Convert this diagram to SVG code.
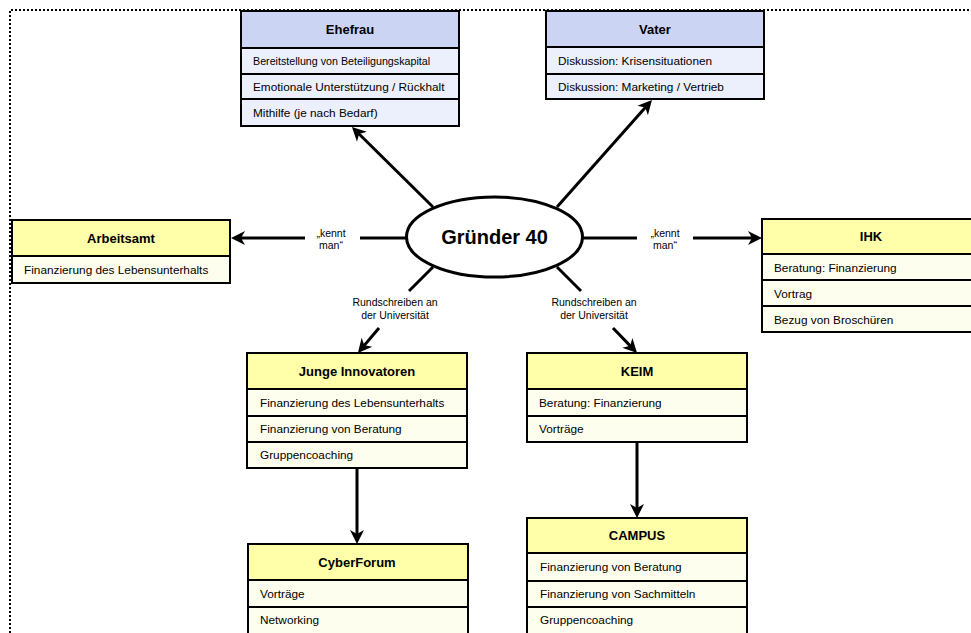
<svg xmlns="http://www.w3.org/2000/svg" width="971" height="633" viewBox="0 0 971 633">
<style>
text{font-family:"Liberation Sans",Arial,Helvetica,sans-serif;fill:#000}
.h{font-size:13px;font-weight:bold;text-anchor:middle}
.r{font-size:11.8px}
.rs{font-size:10.7px}
.lbl{font-size:10.5px;text-anchor:middle}
.hb{fill:#ccd4f4;stroke:#000;stroke-width:2}
.rb{fill:#eceffc;stroke:#000;stroke-width:2}
.hy{fill:#ffffaa;stroke:#000;stroke-width:2}
.ry{fill:#fefeee;stroke:#000;stroke-width:2}
.c{stroke:#000;stroke-width:3;fill:none}
.ca{stroke:#000;stroke-width:3;fill:none;marker-end:url(#ah)}
</style>
<defs>
<marker id="ah" markerUnits="userSpaceOnUse" viewBox="-12 -8 17 16" refX="0" refY="0" markerWidth="17" markerHeight="16" orient="auto">
<path d="M4,0 L-10,-7 L-6,0 L-10,7 Z" fill="#000"/>
</marker>
</defs>
<rect width="971" height="633" fill="#fff"/>
<path d="M10,633 L10,10 L971,10" fill="none" stroke="#000" stroke-width="2" stroke-dasharray="2 2"/>

<g id="connectors">
<line class="ca" x1="433" y1="207" x2="354.8" y2="129.8"/>
<line class="ca" x1="557" y1="207" x2="649.3" y2="103"/>
<line class="c" x1="407" y1="238" x2="360" y2="238"/>
<line class="ca" x1="305" y1="238" x2="235" y2="238"/>
<line class="c" x1="582" y1="238" x2="637" y2="238"/>
<line class="ca" x1="693" y1="238" x2="758" y2="238"/>
<line class="c" x1="433" y1="267" x2="409" y2="291"/>
<line class="ca" x1="379" y1="328" x2="360.5" y2="349.9"/>
<line class="c" x1="557" y1="267" x2="581" y2="291"/>
<line class="ca" x1="613" y1="328" x2="634.3" y2="350.1"/>
<line class="ca" x1="357" y1="468" x2="357" y2="540"/>
<line class="ca" x1="637" y1="442" x2="637" y2="514"/>
<text class="lbl" x="331" y="237">„kennt</text>
<text class="lbl" x="331" y="249">man“</text>
<text class="lbl" x="665" y="237">„kennt</text>
<text class="lbl" x="665" y="249">man“</text>
<text class="lbl" x="395" y="306">Rundschreiben an</text>
<text class="lbl" x="395" y="319">der Universität</text>
<text class="lbl" x="594" y="306">Rundschreiben an</text>
<text class="lbl" x="594" y="319">der Universität</text>
</g>

<g id="gruender">
<ellipse cx="494.5" cy="237" rx="88" ry="40" fill="#fff" stroke="#000" stroke-width="3"/>
<text x="494.5" y="244" style="font-size:20px;font-weight:bold;text-anchor:middle">Gründer 40</text>
</g>

<g id="ehefrau">
<rect class="hb" x="241" y="11" width="218" height="37"/>
<rect class="rb" x="241" y="48" width="218" height="26"/>
<rect class="rb" x="241" y="74" width="218" height="25"/>
<rect class="rb" x="241" y="99" width="218" height="27"/>
<text class="h" x="350" y="34">Ehefrau</text>
<text class="rs" x="253" y="65">Bereitstellung von Beteiligungskapital</text>
<text class="r" x="253" y="91">Emotionale Unterstützung / Rückhalt</text>
<text class="r" x="253" y="117">Mithilfe (je nach Bedarf)</text>
</g>

<g id="vater">
<rect class="hb" x="546" y="11" width="218" height="36"/>
<rect class="rb" x="546" y="47" width="218" height="27"/>
<rect class="rb" x="546" y="74" width="218" height="25"/>
<text class="h" x="655" y="34">Vater</text>
<text class="r" x="558" y="65">Diskussion: Krisensituationen</text>
<text class="r" x="558" y="91">Diskussion: Marketing / Vertrieb</text>
</g>

<g id="arbeitsamt">
<rect class="hy" x="12" y="220" width="218" height="36"/>
<rect class="ry" x="12" y="256" width="218" height="27"/>
<text class="h" x="121" y="243">Arbeitsamt</text>
<text class="r" x="24" y="274">Finanzierung des Lebensunterhalts</text>
</g>

<g id="ihk">
<rect class="hy" x="762" y="219" width="218" height="35"/>
<rect class="ry" x="762" y="254" width="218" height="26"/>
<rect class="ry" x="762" y="280" width="218" height="26"/>
<rect class="ry" x="762" y="306" width="218" height="26"/>
<text class="h" x="871" y="241">IHK</text>
<text class="r" x="774" y="272">Beratung: Finanzierung</text>
<text class="r" x="774" y="298">Vortrag</text>
<text class="r" x="774" y="324">Bezug von Broschüren</text>
</g>

<g id="junge">
<rect class="hy" x="247" y="353" width="220" height="36"/>
<rect class="ry" x="247" y="389" width="220" height="27"/>
<rect class="ry" x="247" y="416" width="220" height="26"/>
<rect class="ry" x="247" y="442" width="220" height="26"/>
<text class="h" x="357" y="376">Junge Innovatoren</text>
<text class="r" x="260" y="407">Finanzierung des Lebensunterhalts</text>
<text class="r" x="260" y="433">Finanzierung von Beratung</text>
<text class="r" x="260" y="459">Gruppencoaching</text>
</g>

<g id="keim">
<rect class="hy" x="527" y="353" width="220" height="36"/>
<rect class="ry" x="527" y="389" width="220" height="27"/>
<rect class="ry" x="527" y="416" width="220" height="26"/>
<text class="h" x="637" y="376">KEIM</text>
<text class="r" x="539" y="407">Beratung: Finanzierung</text>
<text class="r" x="539" y="433">Vorträge</text>
</g>

<g id="cyberforum">
<rect class="hy" x="248" y="544" width="220" height="36"/>
<rect class="ry" x="248" y="580" width="220" height="27"/>
<rect class="ry" x="248" y="607" width="220" height="30"/>
<text class="h" x="357" y="567">CyberForum</text>
<text class="r" x="260" y="598">Vorträge</text>
<text class="r" x="260" y="624">Networking</text>
</g>

<g id="campus">
<rect class="hy" x="527" y="518" width="220" height="35"/>
<rect class="ry" x="527" y="553" width="220" height="28"/>
<rect class="ry" x="527" y="581" width="220" height="26"/>
<rect class="ry" x="527" y="607" width="220" height="30"/>
<text class="h" x="637" y="540">CAMPUS</text>
<text class="r" x="540" y="571">Finanzierung von Beratung</text>
<text class="r" x="540" y="598">Finanzierung von Sachmitteln</text>
<text class="r" x="540" y="624">Gruppencoaching</text>
</g>
</svg>
